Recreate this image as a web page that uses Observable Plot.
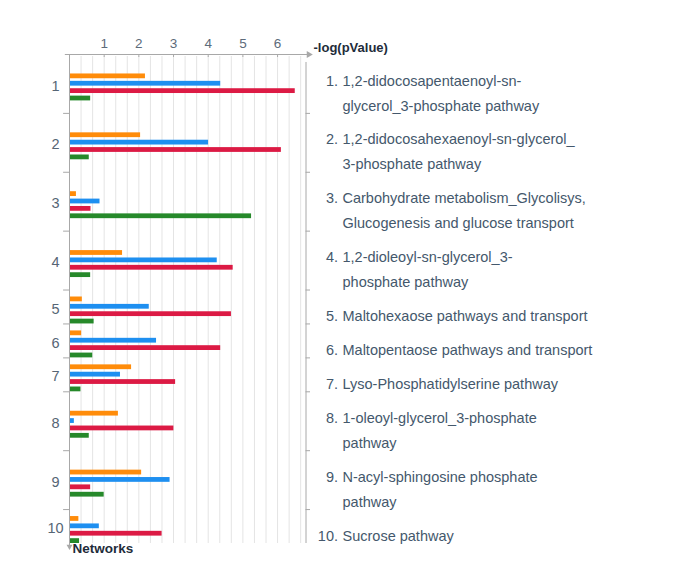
<!DOCTYPE html>
<html><head><meta charset="utf-8">
<script src="https://cdn.jsdelivr.net/npm/d3@7"></script>
<script src="https://cdn.jsdelivr.net/npm/@observablehq/plot@0.6"></script>
<style>body{margin:0;background:#fff}</style>
</head><body><div id="chart"></div>
<script>
const categories = ["1","2","3","4","5","6","7","8","9","10"];
const pathwayLabels = [
  ["1,2-didocosapentaenoyl-sn-", "glycerol_3-phosphate pathway"],
  ["1,2-didocosahexaenoyl-sn-glycerol_", "3-phosphate pathway"],
  ["Carbohydrate metabolism_Glycolisys,", "Glucogenesis and glucose transport"],
  ["1,2-dioleoyl-sn-glycerol_3-", "phosphate pathway"],
  ["Maltohexaose pathways and transport"],
  ["Maltopentaose pathways and transport"],
  ["Lyso-Phosphatidylserine pathway"],
  ["1-oleoyl-glycerol_3-phosphate", "pathway"],
  ["N-acyl-sphingosine phosphate", "pathway"],
  ["Sucrose pathway"]
];
const seriesNames = ["Series 1", "Series 2", "Series 3", "Series 4"];
const seriesColors = ["#ff8c0a", "#1e8ff0", "#dc1a44", "#26892a"];
const orangeValues = [2.19, 2.05, 0.20, 1.53, 0.37, 0.35, 1.79, 1.41, 2.08, 0.27];
const blueValues   = [4.36, 4.01, 0.88, 4.26, 2.30, 2.51, 1.47, 0.14, 2.90, 0.86];
const redValues    = [6.51, 6.11, 0.62, 4.72, 4.67, 4.36, 3.06, 3.01, 0.61, 2.67];
const greenValues  = [0.61, 0.57, 5.25, 0.61, 0.71, 0.67, 0.33, 0.57, 1.00, 0.29];
const xTicks = [1, 2, 3, 4, 5, 6];
const xAxisTitle = "-log(pValue)";
const yAxisTitle = "Networks";

// ---- layout derived from the legend line counts ----
const LINE = 25, PAD = 9;
let acc = 0;
const rows = categories.map((c, i) => {
  const n = pathwayLabels[i].length;
  const h = n * LINE + PAD;
  const r = {cat: c, top: acc, h, center: acc + h / 2, n,
             numY: acc + h / 2 - (n - 1) * LINE / 2};
  acc += h;
  return r;
});
const total = acc;
const boundaries = rows.slice(1).map(r => r.top);
const legendLines = rows.flatMap((r, i) =>
  pathwayLabels[i].map((t, j) => ({text: t, y: r.numY + j * LINE})));
const seriesValues = [orangeValues, blueValues, redValues, greenValues];
const bars = [];
seriesValues.forEach((vals, k) => vals.forEach((v, i) => {
  const c = rows[i].center + 3.5 + (k - 1.5) * 7.4;
  bars.push({series: seriesNames[k], value: v, y1: c - 2.4, y2: c + 2.4});
}));
const xMax = 6.82;
const grid = d3.range(1, 21).map(i => i / 3);
const axisGray = "#a8a8a8";
const textBlue = "#44586c";

const chart = Plot.plot({
  width: 685, height: 586,
  marginTop: 54, marginBottom: 43, marginLeft: 69, marginRight: 379.5,
  style: {fontFamily: "'Liberation Sans', Arial, sans-serif", background: "#fff"},
  x: {domain: [0, xMax], axis: null},
  y: {type: "linear", domain: [0, total], range: [54, 543], axis: null},
  color: {domain: seriesNames, range: seriesColors},
  marks: [
    Plot.ruleX(grid, {x: d => d, y1: 2, y2: total, stroke: "#e4e4e4", strokeWidth: 1}),
    Plot.rectX(bars, {x1: 0, x2: "value", y1: "y1", y2: "y2", fill: "series"}),
    // top axis
    Plot.ruleY([0], {x1: -0.12, x2: 6.9, stroke: axisGray}),
    Plot.dot([6.9], {x: d => d, y: d => 0, symbol: "triangle", rotate: 90, r: 2.6, fill: axisGray, stroke: null}),
    Plot.ruleX(xTicks, {x: d => d, y1: 0, y2: 3, stroke: axisGray}),
    Plot.axisX({anchor: "top", ticks: xTicks, tickSize: 0, tickPadding: 7, fontSize: 13.5, color: "#5d6b7a", label: null, tickFormat: d => String(d)}),
    Plot.text([xAxisTitle], {frameAnchor: "top-right", lineAnchor: "middle", dx: 7.5, dy: -7, textAnchor: "start", fontWeight: "bold", fontSize: 13, fill: "#1e2c3a"}),
    // left axis
    Plot.ruleX([0], {x: d => d, y1: 0, y2: total + 2, stroke: axisGray}),
    Plot.ruleY(boundaries, {y: d => d, x1: -0.17, x2: 0, stroke: axisGray}),
    Plot.dot([0], {x: d => d, frameAnchor: "bottom", dy: 3, symbol: "triangle", rotate: 180, r: 2.2, fill: axisGray, stroke: null}),
    Plot.text([yAxisTitle], {frameAnchor: "bottom-left", lineAnchor: "middle", dx: 3, dy: 5.5, textAnchor: "start", fontWeight: "bold", fontSize: 13.5, fill: "#1e2c3a"}),
    Plot.text(rows, {y: "center", text: "cat", frameAnchor: "left", dx: -14, dy: 2, textAnchor: "middle", fontSize: 14.5, fill: "#566575"}),
    // right divider
    Plot.ruleX([xMax], {x: d => d, y1: 8, y2: total, stroke: axisGray}),
    Plot.ruleY(boundaries, {y: d => d, x1: xMax, x2: xMax + 0.13, stroke: axisGray}),
    // legend list
    Plot.text(rows, {y: "numY", text: d => d.cat + ".", frameAnchor: "right", dx: 32, dy: 9.5, textAnchor: "end", fontSize: 14.5, fill: textBlue}),
    Plot.text(legendLines, {y: "y", text: "text", frameAnchor: "right", dx: 36.5, dy: 9.5, textAnchor: "start", fontSize: 14.5, fill: textBlue})
  ]
});
document.getElementById("chart").append(chart);
</script>
</body></html>
